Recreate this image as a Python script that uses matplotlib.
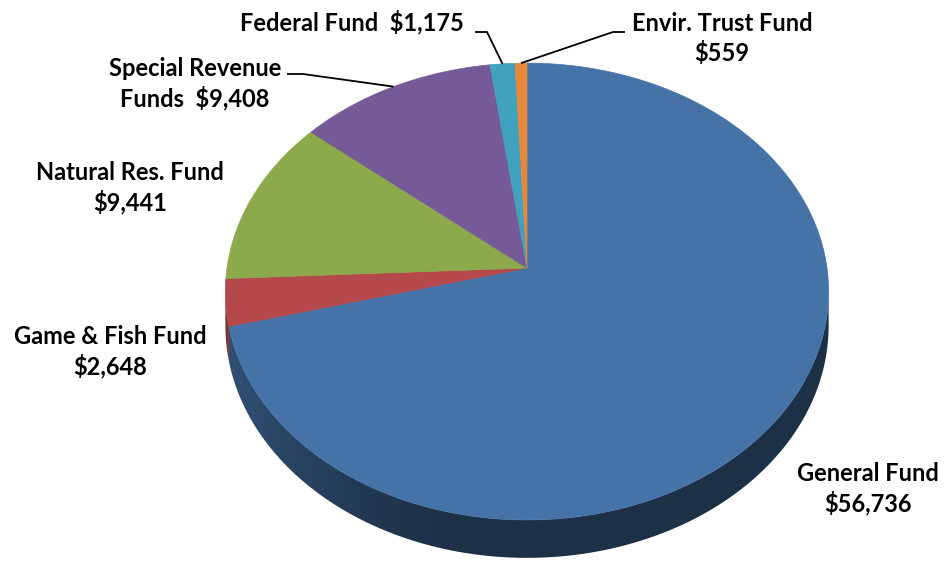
import numpy as np
import matplotlib.pyplot as plt
from matplotlib.patches import Polygon
from matplotlib.colors import to_rgb

# fund totals (thousands)
funds = ['General Fund', 'Game & Fish Fund', 'Natural Res. Fund',
         'Special Revenue', 'Federal Fund', 'Envir. Trust Fund']
amounts = [56736, 2648, 9441, 9408, 1175, 559]
colors = ['#4573a8', '#b5484a', '#8caa4c', '#765a97', '#41a2be', '#e7873a']

# label text per slice
label_text = ['General Fund\n$56,736', 'Game & Fish Fund\n$2,648', 'Natural Res. Fund\n$9,441',
              'Special Revenue\nFunds  $9,408', 'Federal Fund  $1,175', 'Envir. Trust Fund\n$559']
label_xy = [(868, 489), (110, 352), (130, 188), (195, 84), (352, 22), (722, 38)]
# leader elbows (only for labels that need a callout line)
leader_pts = {3: [(287, 74), (303, 74)], 4: [(475, 32), (487, 32)], 5: [(625, 32), (613, 32)]}

# 3-D pie geometry in pixel space
cx, cy = 527, 268
rx, ry = 300, 226
persp = 0.103
depth = 34


def project(theta, drop=0.0):
    u, v = np.cos(theta), np.sin(theta)
    w = 1 + persp * v
    return cx + rx * u / w, cy + (-ry * v + depth * drop) / w


def side_shade(x):
    # lit from the left, darkening toward the front and right
    t = np.clip((x - 229) / 230.0, 0, 1)
    return 0.42 + 0.27 * (1 - t) ** 1.4


fig = plt.figure(figsize=(9.48, 5.61), dpi=100)
ax = fig.add_axes([0, 0, 1, 1])
ax.set_xlim(0, 948)
ax.set_ylim(561, 0)
ax.axis('off')

total = float(sum(amounts))
fracs = np.array(amounts) / total
starts = np.pi / 2 - 2 * np.pi * np.concatenate([[0], np.cumsum(fracs)[:-1]])
ends = starts - 2 * np.pi * fracs

# side wall (front half only), filled with a horizontal shading gradient
k_off = np.arcsin(persp)
vis_lo, vis_hi = np.pi + k_off, 2 * np.pi - k_off
gx = np.linspace(200, 860, 660)
for s, e, c in zip(starts, ends, colors):
    base = np.array(to_rgb(c))
    for shift in (0, 2 * np.pi, -2 * np.pi):
        lo, hi = max(e + shift, vis_lo), min(s + shift, vis_hi)
        if hi <= lo:
            continue
        th = np.linspace(lo, hi, max(4, int((hi - lo) * 150)))
        xt, yt = project(th)
        xb, yb = project(th[::-1], 1.0)
        poly = Polygon(np.column_stack([np.r_[xt, xb], np.r_[yt, yb]]),
                       closed=True, fc='none', ec='none')
        ax.add_patch(poly)
        grad = np.clip(base[None, None, :] * side_shade(gx)[None, :, None], 0, 1)
        im = ax.imshow(grad, extent=(gx[0], gx[-1], 570, 250), aspect='auto',
                       interpolation='bilinear', zorder=1)
        im.set_clip_path(poly)

# top faces
for s, e, c in zip(starts, ends, colors):
    th = np.linspace(s, e, max(4, int(abs(s - e) * 80)))
    xs, ys = project(th)
    ax.add_patch(Polygon(np.column_stack([np.r_[cx, xs], np.r_[cy, ys]]),
                         closed=True, fc=c, ec=c, lw=0.5, zorder=2))

ax.set_xlim(0, 948)
ax.set_ylim(561, 0)

# labels
font = dict(family=['Lato', 'DejaVu Sans'], fontsize=17, fontweight='bold', color='black')
for i, (txt, (lx, ly)) in enumerate(zip(label_text, label_xy)):
    ax.text(lx, ly, txt, ha='center', va='center', linespacing=1.3, zorder=4, **font)
    if i in leader_pts:
        mid = (starts[i] + ends[i]) / 2
        px, py = project(mid)
        pts = leader_pts[i] + [(px, py)]
        ax.plot([p[0] for p in pts], [p[1] for p in pts], color='black', lw=1.3,
                solid_capstyle='butt', zorder=3)

fig.savefig('out.png', dpi=100)
